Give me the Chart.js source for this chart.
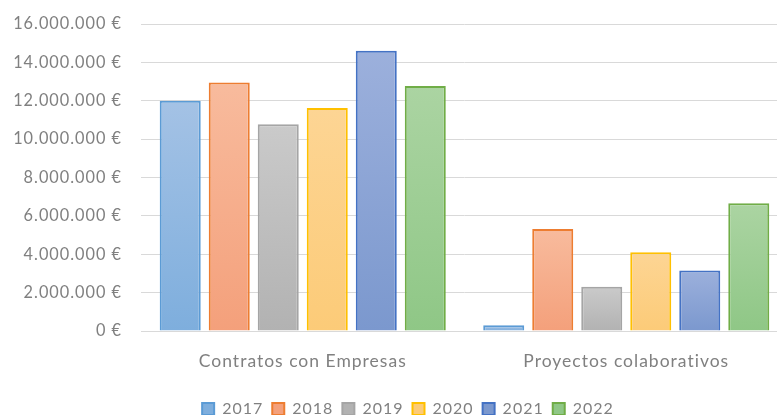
<!DOCTYPE html>
<html>
<head>
<meta charset="utf-8">
<script src="https://cdn.jsdelivr.net/npm/chart.js@4.4.0/dist/chart.umd.min.js"></script>
<style>
  html, body { margin: 0; padding: 0; background: #fff; overflow: hidden; }
  #wrap { position: absolute; left: 0; top: 0; width: 814px; height: 415px; }
</style>
</head>
<body>
<div id="wrap"><canvas id="chart"></canvas></div>
<script>
// categories and values
const categories = ['Contratos con Empresas', 'Proyectos colaborativos'];
const years = ['2017', '2018', '2019', '2020', '2021', '2022'];
const values2017 = [12000000, 300000];
const values2018 = [12950000, 5320000];
const values2019 = [10770000, 2300000];
const values2020 = [11620000, 4100000];
const values2021 = [14600000, 3150000];
const values2022 = [12770000, 6660000];
const yTicks = [0, 2000000, 4000000, 6000000, 8000000, 10000000, 12000000, 14000000, 16000000];

const seriesValues = [values2017, values2018, values2019, values2020, values2021, values2022];

// light (top) / dark (bottom) / border per year
const palette = [
    { light: '#a4c2e5', dark: '#7eaedd', flat: '#92b8e1', border: '#5b9bd5' },
    { light: '#f8bb9d', dark: '#f4a07b', flat: '#f6ad8c', border: '#ed7d31' },
    { light: '#cacaca', dark: '#b2b2b2', flat: '#bfbfbf', border: '#a5a5a5' },
    { light: '#fdd594', dark: '#fccb78', flat: '#fdd086', border: '#ffc000' },
    { light: '#9cb0dc', dark: '#7b98ce', flat: '#8ba4d5', border: '#4472c4' },
    { light: '#abd4a2', dark: '#8fc786', flat: '#9dcd94', border: '#70ad47' }
];

function euro(v) {
    return String(v).replace(/\B(?=(\d{3})+(?!\d))/g, '.') + ' €';
}

// per bar vertical gradient, like the office chart
function barFill(col) {
    return function (c) {
        if (c.type !== 'data') return col.flat;
        const y = c.chart.scales.y;
        if (!y || !c.chart.chartArea) return col.flat;
        const top = y.getPixelForValue(c.raw);
        const bot = y.getPixelForValue(0);
        if (!isFinite(top) || !isFinite(bot) || bot - top < 1) return col.flat;
        const g = c.chart.ctx.createLinearGradient(0, top, 0, bot);
        g.addColorStop(0, col.light);
        g.addColorStop(1, col.dark);
        return g;
    };
}

// text in the reference is a little wider than Lato
const spacing = {
    id: 'spacing',
    beforeUpdate(chart) { chart.ctx.letterSpacing = '1px'; },
    beforeDraw(chart) { chart.ctx.letterSpacing = '1px'; }
};

// legend sits a bit right of the canvas centre
const legendShift = {
    id: 'legendShift',
    afterLayout(chart) {
        chart.legend.left += 14;
        chart.legend.right += 14;
    }
};

const datasets = years.map((yr, i) => ({
    label: yr,
    data: seriesValues[i],
    backgroundColor: barFill(palette[i]),
    borderColor: palette[i].border,
    borderWidth: 2,
    categoryPercentage: 0.909,
    barPercentage: 0.837
}));

Chart.defaults.font.family = 'Lato, "Noto Sans", sans-serif';
Chart.defaults.font.size = 16;
Chart.defaults.color = '#808080';

new Chart(document.getElementById('chart'), {
    type: 'bar',
    data: { labels: categories, datasets: datasets },
    plugins: [spacing, legendShift],
    options: {
        responsive: true,
        maintainAspectRatio: false,
        animation: false,
        layout: { padding: { top: 24, right: 26, left: 0, bottom: -12 } },
        plugins: {
            legend: {
                position: 'bottom',
                labels: { boxWidth: 12, boxHeight: 12, padding: 9, color: '#808080' }
            },
            tooltip: { enabled: false }
        },
        scales: {
            x: {
                grid: { display: false, drawTicks: false },
                border: { color: '#d9d9d9', width: 1 },
                ticks: { padding: 20, color: '#808080', font: { size: 17.5 } }
            },
            y: {
                min: 0,
                max: 16000000,
                afterFit(scale) {
                    scale.width = 141;
                    scale.paddingTop = 0;
                    scale.paddingBottom = 0;
                },
                afterBuildTicks(scale) { scale.ticks = yTicks.map(v => ({ value: v })); },
                grid: { color: '#d9d9d9', lineWidth: 1, drawTicks: false },
                border: { display: false },
                ticks: { padding: 19, color: '#808080', font: { size: 16.3 }, callback: v => euro(v) }
            }
        }
    }
});
</script>
</body>
</html>
